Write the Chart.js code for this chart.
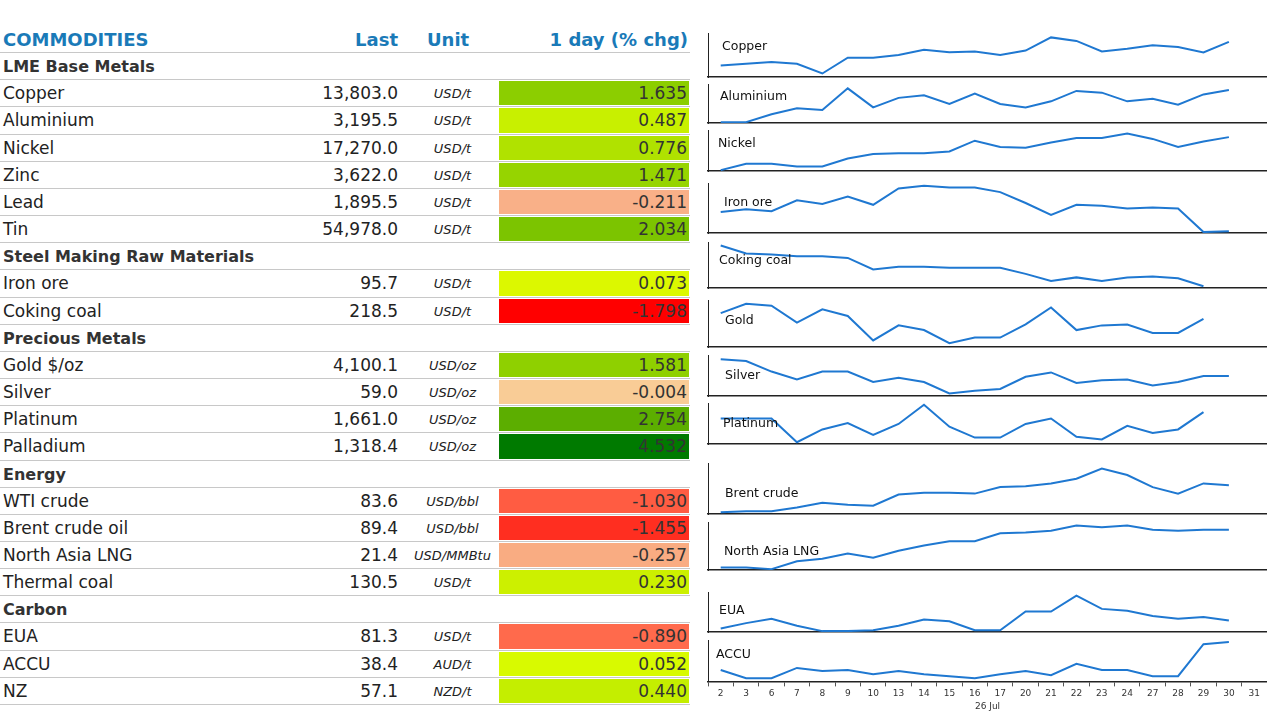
<!DOCTYPE html>
<html><head><meta charset="utf-8">
<script src="https://cdn.jsdelivr.net/npm/chart.js@4"></script>
<style>
body{margin:0;width:1280px;height:720px;background:#fff;font-family:"DejaVu Sans",Verdana,sans-serif;position:relative;overflow:hidden}
#tbl{position:absolute;left:0;top:26px;width:690px}
.row{position:relative;height:27.17px;border-bottom:1px solid #c8c8c8;box-sizing:border-box}
.row span{position:absolute;top:3px;white-space:nowrap}
.nm{left:3px;font-size:17px;color:#222}
.last{right:292px;font-size:17px;color:#222}
.unit{left:400px;width:105px;text-align:center;font-size:13px;font-style:italic;top:6px!important;color:#222}
.chg{position:absolute;left:499px;width:190px;top:1px;bottom:1px}
.chg b{position:absolute;right:2px;top:2px;font-weight:normal;font-size:17px;color:#333}
.hd span{color:#1a7ab8;font-weight:bold;font-size:18px}
.sec span{font-weight:bold;font-size:16px;color:#333;top:4px}
.pn{position:absolute;left:706px;width:561px}
.lb{position:absolute;font-size:12.5px;color:#111;z-index:2}
</style></head><body>
<div id="tbl"></div>
<div id="spark"></div>
<script>
// ── Table data ──
const sections = ['LME Base Metals','Steel Making Raw Materials','Precious Metals','Energy','Carbon'];
const names = [
  ['Copper','Aluminium','Nickel','Zinc','Lead','Tin'],
  ['Iron ore','Coking coal'],
  ['Gold $/oz','Silver','Platinum','Palladium'],
  ['WTI crude','Brent crude oil','North Asia LNG','Thermal coal'],
  ['EUA','ACCU','NZ']
];
const lastVals = [
  ['13,803.0','3,195.5','17,270.0','3,622.0','1,895.5','54,978.0'],
  ['95.7','218.5'],
  ['4,100.1','59.0','1,661.0','1,318.4'],
  ['83.6','89.4','21.4','130.5'],
  ['81.3','38.4','57.1']
];
const units = [
  ['USD/t','USD/t','USD/t','USD/t','USD/t','USD/t'],
  ['USD/t','USD/t'],
  ['USD/oz','USD/oz','USD/oz','USD/oz'],
  ['USD/bbl','USD/bbl','USD/MMBtu','USD/t'],
  ['USD/t','AUD/t','NZD/t']
];
const changes = [
  ['1.635','0.487','0.776','1.471','-0.211','2.034'],
  ['0.073','-1.798'],
  ['1.581','-0.004','2.754','4.532'],
  ['-1.030','-1.455','-0.257','0.230'],
  ['-0.890','0.052','0.440']
];
const changeColors = [
  ['#8cce00','#c8f000','#b0e200','#96d400','#f9b088','#7cc400'],
  ['#dcf800','#ff0000'],
  ['#8fd000','#f9cc96','#5cae00','#007a00'],
  ['#ff5c42','#ff2e20','#f9ac82','#ccf000'],
  ['#ff6a4c','#d8fa00','#c4ee00']
];

const tbl = document.getElementById('tbl');
tbl.innerHTML = '<div class="row hd"><span style="left:3px">COMMODITIES</span><span style="right:292px">Last</span><span style="left:427px">Unit</span><span style="right:2px">1 day (% chg)</span></div>';
sections.forEach((s, i) => {
  tbl.innerHTML += `<div class="row sec"><span style="left:3px">${s}</span></div>`;
  names[i].forEach((n, j) => {
    tbl.innerHTML += `<div class="row"><span class="nm">${n}</span><span class="last">${lastVals[i][j]}</span><span class="unit">${units[i][j]}</span><div class="chg" style="background:${changeColors[i][j]}"><b>${changes[i][j]}</b></div></div>`;
  });
});

// ── Sparkline data (relative daily level) ──
const days = ['2','3','6','7','8','9','10','13','14','15','16','17','20','21','22','23','24','27','28','29','30','31'];
const copper   = [13,15,17,15,4,22,22,25,31,28,29,25,30,45,41,29,32,36,34,28,40];
const aluminium= [1,1,10,17,15,40,18,29,32,22,34,22,18,25,37,35,25,28,21,33,38];
const nickel   = [1,8,8,5,5,14,19,20,20,22,34,27,26,32,37,37,42,36,27,33,38];
const ironOre  = [23,26,24,36,32,40,31,49,52,50,50,45,33,20,31,30,27,28,27,1,2];
const cokingCoal=[48,39,38,36,36,34,21,24,24,23,23,23,16,8,12,8,12,13,11,2,null];
const gold     = [36,46,44,26,40,33,7,23,18,4,10,10,24,42,18,23,24,15,15,30,null];
const silver   = [42,40,28,19,28,28,16,21,16,3,6,8,22,27,15,18,19,12,16,23,23];
const platinum = [28,28,28,2,16,23,10,22,43,19,7,7,22,28,8,5,20,12,16,35,null];
const brent    = [2,3,3,7,12,10,9,21,23,23,22,29,30,33,38,49,42,29,22,33,31];
const lng      = [3,3,1,10,13,19,14,22,28,33,33,42,43,45,51,49,51,46,45,46,46];
const eua      = [4,10,15,7,1,1,2,7,14,12,2,2,23,23,41,26,24,18,15,17,13];
const accu     = [11,3,3,13,10,11,7,10,7,5,3,7,10,6,17,11,11,5,5,36,38];

// name, series, panel top, panel bottom, y max, label x/y
const panels = [
  ['Copper', copper, 33, 82, 50, 722, 38],
  ['Aluminium', aluminium, 84, 128, 45, 720, 88],
  ['Nickel', nickel, 130, 176, 46, 718, 135],
  ['Iron ore', ironOre, 183, 238, 55, 724, 194],
  ['Coking coal', cokingCoal, 242, 293, 52, 719, 252],
  ['Gold', gold, 300, 352, 50, 725, 312],
  ['Silver', silver, 355, 401, 47, 725, 367],
  ['Platinum', platinum, 403, 449, 45, 723, 415],
  ['Brent crude', brent, 463, 519, 55, 725, 485],
  ['North Asia LNG', lng, 522, 575, 55, 724, 543],
  ['EUA', eua, 592, 637, 45, 719, 602],
  ['ACCU', accu, 640, 680, 40, 716, 646]
];

const spark = document.getElementById('spark');
panels.forEach((p, k) => {
  const [label, series, top, bottom, ymax, lx, ly] = p;
  const last = k === panels.length - 1;
  const h = bottom - top + (last ? 32 : 0);
  const div = document.createElement('div');
  div.className = 'pn';
  div.style.top = top + 'px';
  div.style.height = h + 'px';
  const cv = document.createElement('canvas');
  div.appendChild(cv);
  spark.appendChild(div);
  const lb = document.createElement('div');
  lb.className = 'lb';
  lb.style.left = lx + 'px'; lb.style.top = ly + 'px';
  lb.textContent = label;
  spark.appendChild(lb);

  new Chart(cv, {
    type: 'line',
    data: { labels: days, datasets: [{ data: series, borderColor: '#1f78d1', borderWidth: 2, pointRadius: 0, tension: 0 }] },
    options: {
      responsive: true, maintainAspectRatio: false, animation: false,
      layout: { padding: 0 },
      plugins: { legend: { display: false }, tooltip: { enabled: false } },
      scales: {
        x: {
          offset: true,
          grid: { display: last, drawOnChartArea: false, tickLength: 5, color: '#555', offset: true },
          border: { display: true, color: '#222', width: 1.5 },
          ticks: { display: last, font: { size: 9, family: 'DejaVu Sans' }, color: '#333', maxRotation: 0, autoSkip: false, padding: 2 },
          title: { display: last, text: '26 Jul', font: { size: 9, family: 'DejaVu Sans' }, color: '#333', padding: 0 }
        },
        y: {
          min: 0, max: ymax,
          afterFit: (a) => { a.width = 2; },
          grid: { display: false },
          border: { display: true, color: '#222', width: 1 },
          ticks: { display: false }
        }
      }
    }
  });
});
</script>
</body></html>
